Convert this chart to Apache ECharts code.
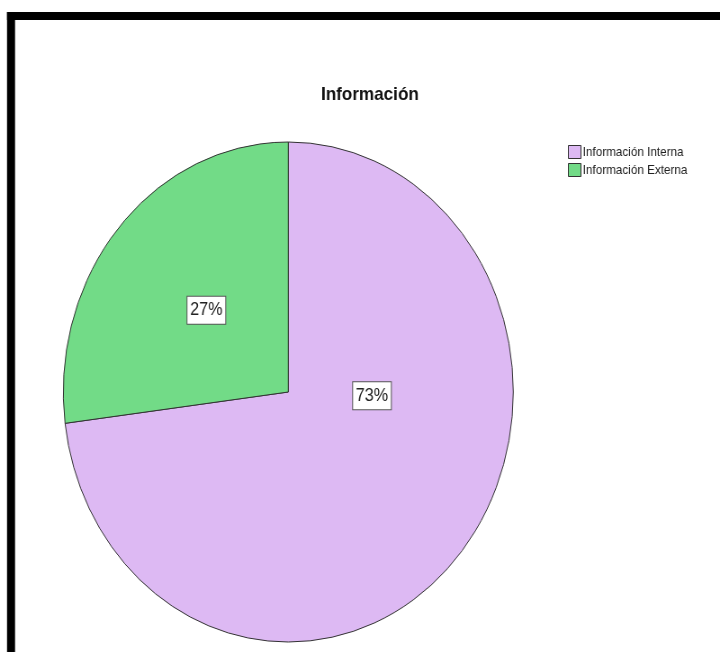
<!DOCTYPE html>
<html>
<head>
<meta charset="utf-8">
<script src="https://cdn.jsdelivr.net/npm/echarts@6/dist/echarts.min.js"></script>
<style>
  html, body { margin: 0; padding: 0; background: #fff; overflow: hidden; }
  #wrap { width: 720px; height: 652px; overflow: hidden; position: relative; }
  /* the chart is laid out on a wider canvas and squeezed horizontally */
  #chart { width: 800px; height: 652px; transform: scaleX(0.9); transform-origin: 0 0; }
</style>
</head>
<body>
<div id="wrap"><div id="chart"></div></div>
<script>
// Chart data
const chartTitle = 'Información';
const categories = ['Información Interna', 'Información Externa'];
const percentages = [73, 27];
const sliceColors = ['#DDB9F3', '#72DB87'];

// Nudges applied to each slice label (px)
const labelShiftX = [-3, 5];
const labelShiftY = [-81, 3];

const chart = echarts.init(document.getElementById('chart'), null, { renderer: 'canvas' });

const font = 'Arial, "Liberation Sans", sans-serif';

chart.setOption({
  animation: false,
  backgroundColor: '#fff',
  title: {
    text: chartTitle,
    left: 406,
    top: 80,
    textAlign: 'center',
    textStyle: { fontFamily: font, fontSize: 19, fontWeight: 'bold', color: '#111' }
  },
  legend: {
    orient: 'vertical',
    left: 626,
    top: 140,
    itemWidth: 14,
    itemHeight: 13,
    itemGap: 4,
    icon: 'rect',
    data: categories,
    itemStyle: { borderColor: '#333', borderWidth: 1 },
    textStyle: { fontFamily: font, fontSize: 13, color: '#222', padding: [0, 0, 0, -3] }
  },
  graphic: [
    { type: 'rect', silent: true, z: 100, shape: { x: 7.8, y: 12, width: 8.9, height: 700 }, style: { fill: '#000' } },
    { type: 'rect', silent: true, z: 100, shape: { x: 7.8, y: 12, width: 900, height: 8 }, style: { fill: '#000' } }
  ],
  series: [{
    type: 'pie',
    center: [320.3, 392],
    radius: [0, 250],
    startAngle: 90,
    clockwise: true,
    avoidLabelOverlap: false,
    emphasis: { disabled: true },
    itemStyle: { borderColor: '#333', borderWidth: 1 },
    label: {
      show: true,
      position: 'inside',
      formatter: p => p.value + '%',
      fontFamily: font,
      fontSize: 18,
      color: '#222',
      backgroundColor: '#fff',
      borderColor: '#555',
      borderWidth: 1,
      padding: [5, 3, 4, 3]
    },
    labelLine: { show: false },
    labelLayout: p => ({ dx: labelShiftX[p.dataIndex], dy: labelShiftY[p.dataIndex] }),
    data: categories.map((name, i) => ({
      name: name,
      value: percentages[i],
      itemStyle: { color: sliceColors[i] }
    }))
  }]
});
</script>
</body>
</html>
